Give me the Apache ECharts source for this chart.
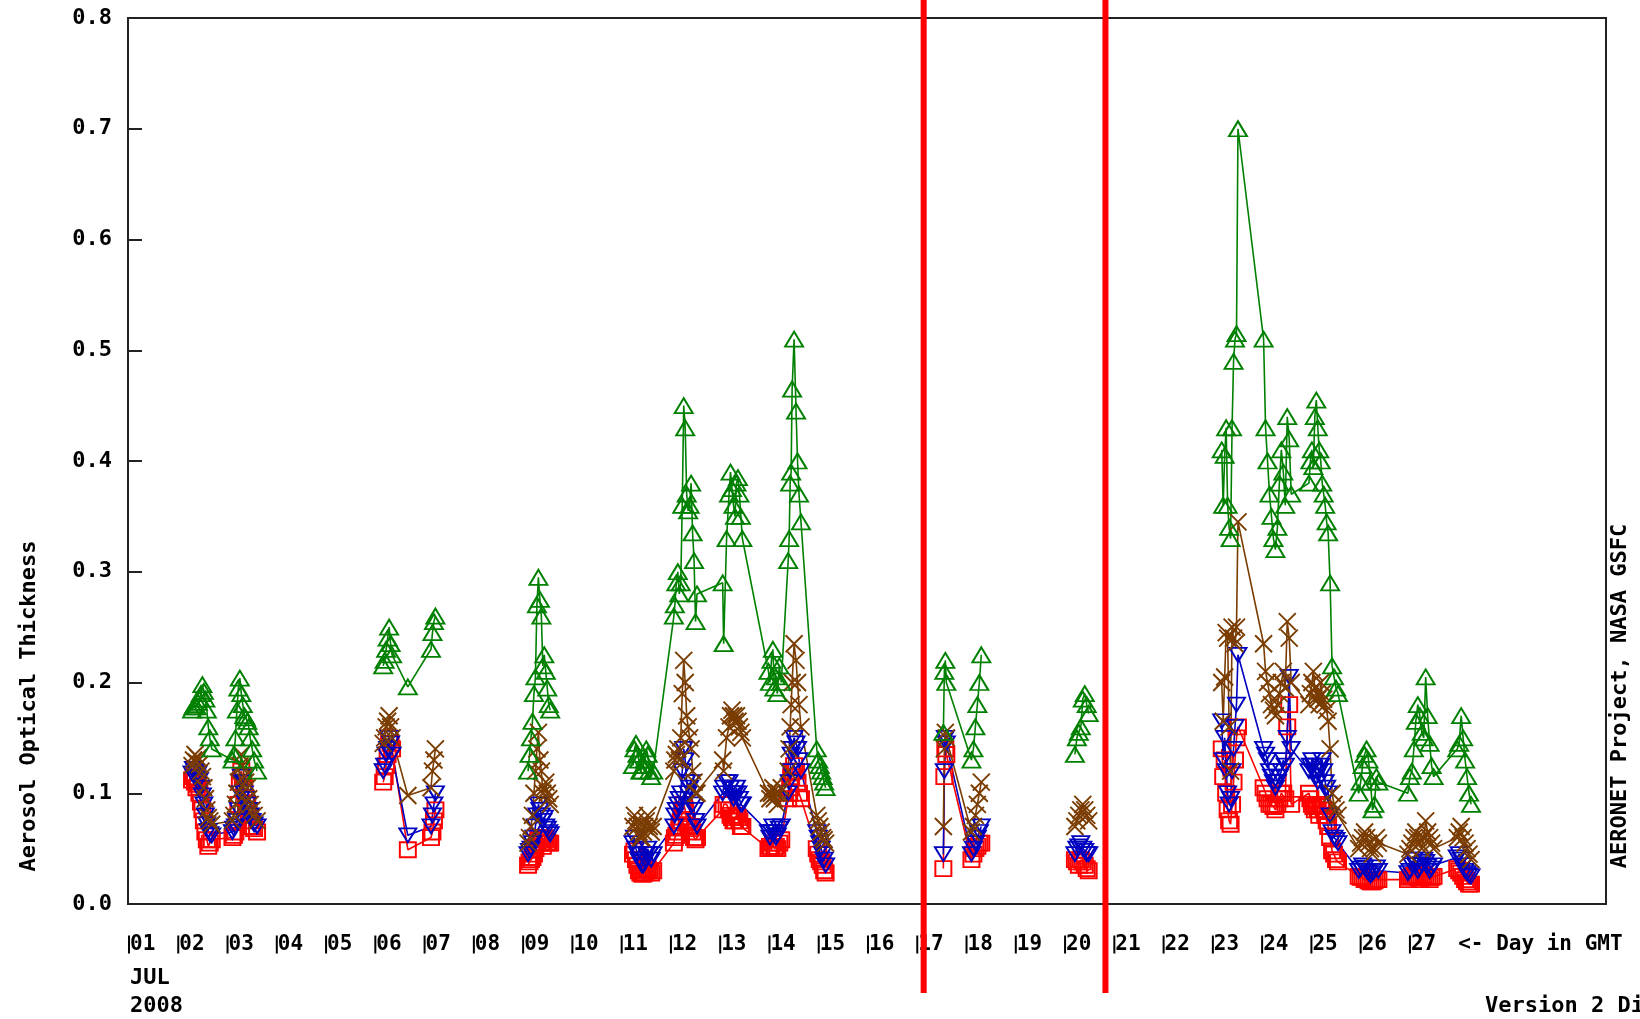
<!DOCTYPE html>
<html>
<head>
<meta charset="utf-8">
<script src="https://cdn.jsdelivr.net/npm/echarts/dist/echarts.min.js"></script>
<style>
  html, body { margin: 0; padding: 0; background: #fff; }
  #main { width: 1640px; height: 1019px; }
</style>
</head>
<body>
<div id="main"></div>
<script>
// measurement times, day of July 2008 (GMT)
const days = [
  2.30,2.33,2.36,2.39,2.42,2.45,2.48,2.51,2.54,2.57,2.60,2.63,2.66,2.70,
  3.12,3.15,3.18,3.21,3.24,3.27,3.30,3.33,3.36,3.39,3.42,3.45,3.48,3.52,3.56,3.62,
  6.18,6.21,6.24,6.27,6.30,6.33,6.36,6.68,7.15,7.18,7.21,7.24,
  9.12,9.15,9.18,9.21,9.24,9.27,9.30,9.33,9.36,9.39,9.42,9.45,9.48,9.51,9.54,9.57,
  11.25,11.28,11.31,11.34,11.37,11.40,11.43,11.46,11.49,11.52,11.55,11.58,11.62,11.66,
  12.08,12.10,12.13,12.16,12.19,12.22,12.25,12.28,12.31,12.34,12.37,12.40,12.43,12.46,12.49,12.52,12.55,
  13.07,13.09,13.15,13.20,13.23,13.26,13.29,13.32,13.35,13.38,13.41,13.44,13.47,
  14.00,14.03,14.06,14.09,14.12,14.15,14.18,14.22,14.26,14.40,14.42,14.44,14.46,14.48,14.52,14.56,14.59,14.62,14.66,
  14.98,15.01,15.04,15.07,15.10,15.13,15.16,
  17.55,17.57,17.59,17.61,
  18.12,18.16,18.20,18.24,18.28,18.32,
  20.22,20.26,20.30,20.34,20.38,20.42,20.46,20.50,
  23.20,23.23,23.26,23.29,23.32,23.35,23.38,23.41,23.44,23.47,23.50,23.53,
  24.05,24.09,24.13,24.17,24.21,24.25,24.29,24.33,24.37,24.41,24.45,24.49,24.53,24.57,24.61,
  24.97,25.00,25.03,25.06,25.09,25.12,25.15,25.18,25.21,25.24,25.27,25.30,25.33,25.36,25.40,25.44,25.48,25.52,25.56,
  25.98,26.02,26.06,26.10,26.14,26.18,26.22,26.26,26.30,26.34,26.38,
  26.98,27.02,27.06,27.10,27.14,27.18,27.22,27.26,27.30,27.34,27.38,27.42,27.46,27.50,
  27.98,28.02,28.06,28.10,28.14,28.18,28.22,28.26
];

// green up-triangles
const aotGreen = [
  .175,.178,.180,.178,.182,.185,.190,.198,.192,.185,.175,.160,.150,.140,
  .130,.135,.150,.175,.195,.204,.190,.180,.170,.168,.165,.160,.150,.140,.130,.120,
  .215,.220,.230,.240,.250,.235,.225,.196,.230,.245,.255,.260,
  .120,.135,.150,.165,.190,.205,.270,.295,.275,.260,.215,.225,.210,.195,.180,.175,
  .125,.140,.145,.135,.130,.120,.120,.125,.130,.140,.135,.120,.115,.120,
  .260,.270,.290,.300,.280,.290,.360,.450,.430,.370,.355,.360,.380,.335,.310,.255,.280,
  .290,.235,.330,.370,.390,.375,.360,.350,.380,.385,.370,.350,.330,
  .210,.200,.220,.230,.195,.205,.190,.215,.200,.310,.330,.380,.390,.465,.510,.445,.400,.370,.345,
  .140,.130,.125,.120,.115,.110,.105,
  .155,.210,.220,.200,
  .130,.140,.160,.180,.200,.225,
  .135,.150,.155,.160,.185,.190,.180,.172,
  .410,.360,.405,.430,.360,.340,.330,.430,.490,.510,.515,.700,
  .510,.430,.400,.370,.350,.330,.320,.340,.380,.410,.390,.360,.440,.420,.370,
  .380,.400,.410,.395,.440,.455,.430,.410,.400,.380,.370,.360,.345,.335,.290,.215,.205,.195,.190,
  .100,.110,.125,.135,.140,.130,.110,.085,.090,.115,.110,
  .100,.115,.120,.140,.165,.180,.170,.155,.150,.205,.170,.145,.125,.115,
  .140,.145,.170,.150,.130,.115,.100,.090
];

// brown crosses
const aotBrown = [
  .125,.130,.135,.128,.132,.126,.120,.115,.105,.095,.085,.078,.075,.072,
  .075,.080,.090,.100,.110,.125,.135,.125,.115,.110,.105,.095,.090,.085,.080,.075,
  .145,.150,.160,.165,.170,.160,.150,.098,.105,.120,.130,.140,
  .055,.060,.070,.080,.100,.120,.140,.155,.130,.120,.100,.105,.110,.100,.095,.090,
  .070,.080,.075,.070,.065,.060,.060,.065,.070,.075,.080,.070,.065,.070,
  .120,.130,.135,.140,.130,.150,.190,.220,.200,.170,.160,.150,.140,.120,.110,.100,.100,
  .130,.120,.150,.160,.170,.175,.170,.165,.170,.165,.160,.155,.150,
  .100,.095,.100,.105,.095,.100,.090,.100,.105,.120,.140,.160,.180,.200,.235,.220,.200,.180,.160,
  .080,.075,.070,.065,.060,.058,.055,
  .070,.140,.155,.150,
  .065,.070,.080,.090,.100,.110,
  .070,.075,.080,.085,.090,.085,.080,.075,
  .200,.165,.205,.245,.240,.160,.120,.250,.240,.235,.250,.345,
  .235,.210,.200,.190,.180,.175,.170,.180,.190,.200,.210,.195,.255,.240,.200,
  .180,.190,.200,.210,.195,.190,.185,.180,.200,.190,.185,.180,.175,.165,.140,.100,.090,.085,.080,
  .050,.055,.060,.065,.060,.055,.050,.045,.050,.060,.055,
  .045,.050,.055,.060,.065,.060,.055,.050,.060,.075,.065,.060,.055,.050,
  .060,.065,.070,.060,.055,.050,.045,.040
];

// blue down-triangles
const aotBlue = [
  .118,.122,.120,.115,.118,.112,.105,.098,.090,.080,.072,.066,.063,.062,
  .065,.068,.070,.075,.085,.100,.115,.110,.100,.095,.090,.085,.080,.075,.072,.070,
  .120,.125,.135,.140,.150,.145,.135,.062,.070,.080,.090,.100,
  .045,.048,.050,.055,.060,.070,.080,.090,.085,.080,.075,.078,.070,.068,.065,.063,
  .055,.060,.050,.045,.040,.038,.035,.035,.040,.045,.050,.045,.040,.045,
  .070,.080,.085,.090,.095,.100,.120,.140,.130,.110,.100,.105,.110,.090,.085,.075,.070,
  .100,.105,.110,.110,.105,.100,.095,.100,.105,.100,.095,.090,.090,
  .065,.060,.065,.070,.065,.060,.062,.068,.070,.100,.110,.120,.135,.140,.150,.145,.140,.130,.120,
  .065,.060,.055,.050,.045,.040,.035,
  .045,.120,.150,.145,
  .045,.050,.055,.060,.065,.070,
  .045,.050,.052,.055,.050,.048,.045,.045,
  .165,.130,.150,.120,.100,.090,.095,.120,.140,.160,.180,.225,
  .140,.135,.130,.120,.115,.110,.105,.110,.115,.120,.130,.125,.150,.205,.140,
  .120,.125,.130,.125,.120,.115,.110,.120,.125,.130,.120,.110,.105,.100,.080,.065,.060,.058,.055,
  .030,.032,.035,.033,.030,.028,.026,.028,.030,.033,.030,
  .028,.030,.035,.040,.035,.030,.032,.036,.040,.038,.034,.030,.032,.035,
  .042,.045,.040,.035,.030,.028,.026,.025
];

// red squares
const aotRed = [
  .112,.115,.110,.105,.108,.100,.092,.085,.075,.065,.058,.052,.055,.058,
  .060,.062,.065,.075,.090,.110,.120,.115,.105,.095,.090,.080,.075,.070,.068,.065,
  .110,.115,.125,.135,.150,.145,.140,.049,.060,.065,.075,.085,
  .035,.038,.040,.042,.045,.050,.055,.060,.058,.055,.052,.060,.058,.056,.055,.055,
  .045,.048,.040,.035,.030,.028,.027,.027,.028,.030,.032,.030,.028,.030,
  .055,.060,.062,.065,.070,.075,.085,.090,.085,.075,.070,.068,.070,.065,.060,.058,.060,
  .085,.090,.090,.085,.080,.078,.075,.075,.080,.078,.075,.070,.070,
  .050,.052,.050,.055,.050,.052,.050,.055,.058,.095,.100,.105,.115,.120,.125,.120,.110,.100,.095,
  .050,.045,.040,.038,.035,.030,.028,
  .032,.115,.140,.135,
  .040,.045,.050,.052,.055,.055,
  .040,.038,.035,.040,.038,.035,.032,.030,
  .140,.115,.130,.100,.085,.075,.072,.090,.110,.130,.150,.160,
  .105,.100,.095,.090,.090,.088,.085,.090,.095,.100,.100,.095,.160,.180,.090,
  .100,.095,.090,.088,.085,.090,.085,.080,.090,.088,.085,.080,.075,.070,.060,.048,.045,.040,.038,
  .025,.024,.024,.022,.022,.021,.020,.020,.021,.022,.022,
  .022,.024,.025,.026,.025,.024,.022,.024,.026,.025,.024,.022,.024,.025,
  .032,.030,.028,.025,.022,.020,.018,.018
];

const lastLabelDay = 27;
const redLineDays = [17.15, 20.84];

const monoFont = '"DejaVu Sans Mono", "Liberation Mono", monospace';

// put a gap in the line where there is more than a day without data
function buildData(values) {
    const out = [];
    for (let i = 0; i < days.length; i++) {
        if (i > 0 && days[i] - days[i - 1] > 1) {
            out.push([days[i], '-']);
        }
        out.push([days[i], values[i]]);
    }
    return out;
}

const seriesDefs = [
    {name: 'red', values: aotRed, color: '#ff0000', symbol: 'rect', size: [16, 15], rotate: 0},
    {name: 'blue', values: aotBlue, color: '#0000c0', symbol: 'triangle', size: [17, 14], rotate: 180},
    {name: 'brown', values: aotBrown, color: '#7a3c00', symbol: 'path://M0,0L10,10M0,10L10,0', size: [17, 17], rotate: 0},
    {name: 'green', values: aotGreen, color: '#008000', symbol: 'triangle', size: [18, 15], rotate: 0}
];

const series = seriesDefs.map(d => ({
    name: d.name,
    type: 'line',
    data: buildData(d.values),
    symbol: d.symbol,
    symbolSize: d.size,
    symbolRotate: d.rotate,
    showAllSymbol: true,
    connectNulls: false,
    lineStyle: {color: d.color, width: 1.6},
    itemStyle: {color: 'rgba(0,0,0,0)', borderColor: d.color, borderWidth: 1.9},
    emphasis: {disabled: true},
    animation: false
}));

const chart = echarts.init(document.getElementById('main'));
chart.setOption({
    backgroundColor: '#fff',
    animation: false,
    grid: {
        left: 128, right: 34, top: 18, bottom: 115,
        show: true, borderColor: '#222', borderWidth: 2, backgroundColor: '#fff'
    },
    xAxis: {
        type: 'value',
        min: 1,
        max: 31,
        interval: 1,
        axisLine: {lineStyle: {color: '#222', width: 2}},
        axisTick: {show: false},
        splitLine: {show: false},
        axisLabel: {
            margin: 30,
            align: 'left',
            showMaxLabel: true,
            formatter: v => {
                if (v <= lastLabelDay) {
                    return '{bar| }{day|' + String(v).padStart(2, '0') + '}';
                }
                if (v === lastLabelDay + 1) {
                    return '{day|<- Day in GMT}';
                }
                return '';
            },
            rich: {
                bar: {width: 2, height: 18, backgroundColor: '#000'},
                day: {fontFamily: monoFont, fontWeight: 'bold', fontSize: 21, color: '#000'}
            }
        }
    },
    yAxis: {
        type: 'value',
        min: 0,
        max: 0.8,
        interval: 0.1,
        axisLine: {show: true, lineStyle: {color: '#222', width: 2}},
        axisTick: {show: true, inside: true, length: 14, lineStyle: {color: '#222', width: 2}},
        splitLine: {show: false},
        axisLabel: {
            margin: 16,
            formatter: v => v.toFixed(1),
            fontFamily: monoFont,
            fontWeight: 'bold',
            fontSize: 22,
            color: '#000'
        }
    },
    series: series
});

const textStyle = {font: 'bold 22px ' + monoFont, fill: '#000'};
const graphics = [
    {type: 'text', x: 29, y: 706, rotation: Math.PI / 2,
        style: Object.assign({text: 'Aerosol Optical Thickness', align: 'center', verticalAlign: 'middle'}, textStyle)},
    {type: 'text', x: 1620, y: 696, rotation: Math.PI / 2,
        style: Object.assign({text: 'AERONET Project, NASA GSFC', align: 'center', verticalAlign: 'middle'}, textStyle)},
    {type: 'text', x: 130, y: 978,
        style: Object.assign({text: 'JUL', align: 'left', verticalAlign: 'middle'}, textStyle)},
    {type: 'text', x: 130, y: 1006,
        style: Object.assign({text: '2008', align: 'left', verticalAlign: 'middle'}, textStyle)},
    {type: 'text', x: 1485, y: 1006,
        style: Object.assign({text: 'Version 2 Direct Sun Algorithm', align: 'left', verticalAlign: 'middle'}, textStyle)}
];

redLineDays.forEach(d => {
    const x = chart.convertToPixel({xAxisIndex: 0}, d);
    graphics.push({
        type: 'line', z: 100,
        shape: {x1: x, y1: 0, x2: x, y2: 993},
        style: {stroke: '#ff0000', lineWidth: 6}
    });
});

chart.setOption({graphic: graphics});
</script>
</body>
</html>
